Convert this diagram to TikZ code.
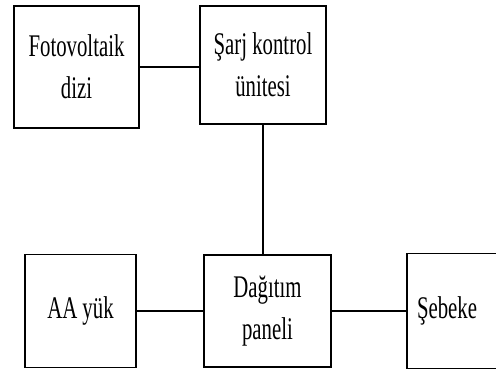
\documentclass[tikz,border=0pt]{standalone}
\usepackage{fontspec}
\setmainfont[FakeStretch=0.66]{Liberation Serif}
\usepackage{tikz}
\usetikzlibrary{positioning}

\begin{document}
\begin{tikzpicture}[
    x=1pt, y=-1pt,
    blok/.style={
      rectangle, draw=black, fill=white, line width=1.8pt,
      inner sep=0pt, outer sep=0pt, align=center,
      font=\fontsize{31.5}{42}\selectfont
    },
    hat/.style={line width=1.8pt}
  ]
    \useasboundingbox (0,0) rectangle (496,370);

    % ust sira
    \node[blok, minimum width=125pt, minimum height=122pt] (pv) at (76.5,67) {Fotovoltaik\\dizi};
    \node[blok, minimum width=126pt, minimum height=118pt, right=61pt of pv, yshift=2pt] (sarj) {Şarj kontrol\\ünitesi};

    % alt sira
    \node[blok, minimum width=127pt, minimum height=112pt, below=131pt of sarj, xshift=4.5pt] (panel) {Dağıtım\\paneli};
    \node[blok, minimum width=111pt, minimum height=113pt, left=68pt of panel] (yuk) {AA yük};
    \node[blok, minimum width=100pt, minimum height=115pt, text width=80pt, inner xsep=10pt,
          align=left, right=76pt of panel] (sebeke) {Şebeke};

    \draw[hat] (pv.east) -- (pv.east -| sarj.west);
    \draw[hat] (sarj.south) -- (sarj.south |- panel.north);
    \draw[hat] (yuk) -- (panel);
    \draw[hat] (panel) -- (sebeke);
  \end{tikzpicture}
\end{document}
